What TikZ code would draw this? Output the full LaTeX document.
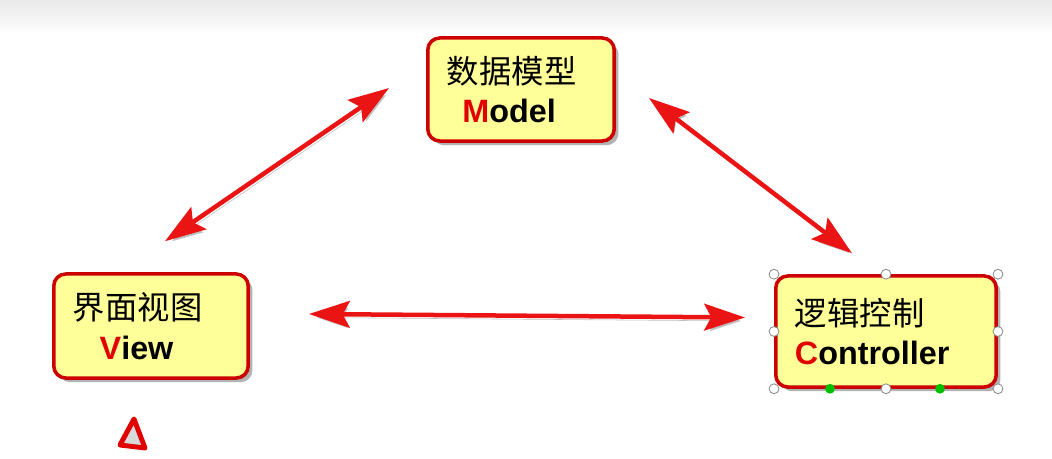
\documentclass[tikz,border=0pt]{standalone}
\usepackage{fontspec}
\setmainfont{Liberation Sans}
\newfontfamily\cjk{Noto Sans CJK SC}
\usetikzlibrary{arrows.meta,shadows}
\definecolor{boxred}{RGB}{205,0,0}
\definecolor{boxfill}{RGB}{255,255,153}
\definecolor{arrred}{RGB}{235,20,20}
\definecolor{lettred}{RGB}{225,0,0}
\tikzset{
  mvcbox/.style={draw=boxred, line width=2.5pt, fill=boxfill, rounded corners=0.3cm,
    inner xsep=0.48cm, align=left, font=\fontsize{23}{28}\selectfont,
    drop shadow={shadow xshift=3pt, shadow yshift=-3pt, fill=black!50, opacity=0.6}},
  mvcarrow/.style={draw=arrred, line width=3.2pt,
    {Stealth[length=29pt,width=19pt,inset=5pt]}-{Stealth[length=29pt,width=19pt,inset=5pt]},
    preaction={draw=black!25, transform canvas={shift={(1.5pt,-2.5pt)}}}},
  handle/.style={circle, draw=black!45, fill=white, inner sep=0pt, minimum size=7pt, line width=0.6pt},
}
\begin{document}
\begin{tikzpicture}[x=0.025cm,y=-0.025cm]
\useasboundingbox (0,0) rectangle (1052,459);
\fill[white] (0,0) rectangle (1052,459);
\shade[top color=black!9, bottom color=white] (0,0) rectangle (1052,34);
\node[mvcbox, text width=3.7cm, minimum height=2.575cm] (model) at (521,89.5) {{\cjk 数据模型}\\\hspace*{11pt}\textbf{\textcolor{lettred}{M}odel}};
\node[mvcbox, text width=3.9cm, minimum height=2.6cm] (view) at (151,326) {{\cjk 界面视图}\\\hspace*{19pt}\textbf{\textcolor{lettred}{V}iew}};
\node[mvcbox, text width=4.55cm, minimum height=2.775cm] (ctrl) at (886,331.5) {{\cjk 逻辑控制}\\\textbf{\textcolor{lettred}{C}ontroller}};
\draw[mvcarrow] ([shift={(-37,-1.5)}]model.west) -- ([shift={(14,-31)}]view.north);
\draw[mvcarrow] ([shift={(33,8.5)}]model.east) -- ([shift={(-34,-21)}]ctrl.north);
\draw[mvcarrow] ([shift={(59,-12)}]view.east) -- ([shift={(-29,-14)}]ctrl.west);
% selection handles
\foreach \a [count=\i] in {north west,north,north east,west,east,south west,south,south east}
  \node[handle] (h\i) at (ctrl.\a) {};
\node[handle, fill=green!75!black, draw=none] (g1) at ([shift={(-56,0)}]ctrl.south) {};
\node[handle, fill=green!75!black, draw=none] (g2) at ([shift={(54,0)}]ctrl.south) {};
\draw[lettred, line width=3.5pt, line join=round, fill=black!15] (134,419) -- (120,445) -- (145,448) -- cycle;
\end{tikzpicture}
\end{document}
